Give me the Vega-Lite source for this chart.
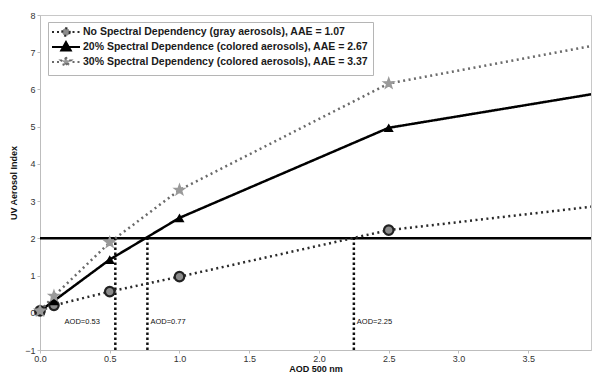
{
  "$schema": "https://vega.github.io/schema/vega-lite/v6.json",
  "autosize": {"type": "none"},
  "padding": {"left": 40, "top": 15, "right": 2, "bottom": 24},
  "width": 551,
  "height": 335,
  "config": {
    "font": "Liberation Sans",
    "view": {"stroke": "#c8c8c8"},
    "axis": {
      "grid": false,
      "domainColor": "#bdbdbd",
      "tickColor": "#bdbdbd",
      "tickSize": 3,
      "labelFont": "Liberation Sans",
      "labelFontSize": 9,
      "labelColor": "#333",
      "labelOverlap": false,
      "titleFont": "Liberation Sans",
      "titleFontSize": 9,
      "titleFontWeight": "bold",
      "titleColor": "#111"
    },
    "axisY": {"labelOverlap": false, "labelFlush": false}
  },
  "datasets": {
    "curves": [
      {"series": "No Spectral Dependency (gray aerosols), AAE = 1.07", "aod": 0, "uvai": 0.05},
      {"series": "No Spectral Dependency (gray aerosols), AAE = 1.07", "aod": 0.1, "uvai": 0.2},
      {"series": "No Spectral Dependency (gray aerosols), AAE = 1.07", "aod": 0.5, "uvai": 0.57},
      {"series": "No Spectral Dependency (gray aerosols), AAE = 1.07", "aod": 1, "uvai": 0.97},
      {"series": "No Spectral Dependency (gray aerosols), AAE = 1.07", "aod": 2.5, "uvai": 2.22},
      {"series": "No Spectral Dependency (gray aerosols), AAE = 1.07", "aod": 4, "uvai": 2.87},
      {"series": "20% Spectral Dependence (colored aerosols), AAE = 2.67", "aod": 0, "uvai": 0.05},
      {"series": "20% Spectral Dependence (colored aerosols), AAE = 2.67", "aod": 0.1, "uvai": 0.32},
      {"series": "20% Spectral Dependence (colored aerosols), AAE = 2.67", "aod": 0.5, "uvai": 1.43},
      {"series": "20% Spectral Dependence (colored aerosols), AAE = 2.67", "aod": 1, "uvai": 2.55},
      {"series": "20% Spectral Dependence (colored aerosols), AAE = 2.67", "aod": 2.5, "uvai": 4.97},
      {"series": "20% Spectral Dependence (colored aerosols), AAE = 2.67", "aod": 4, "uvai": 5.9},
      {"series": "30% Spectral Dependency (colored aerosols), AAE = 3.37", "aod": 0, "uvai": 0.05},
      {"series": "30% Spectral Dependency (colored aerosols), AAE = 3.37", "aod": 0.1, "uvai": 0.45},
      {"series": "30% Spectral Dependency (colored aerosols), AAE = 3.37", "aod": 0.5, "uvai": 1.89},
      {"series": "30% Spectral Dependency (colored aerosols), AAE = 3.37", "aod": 1, "uvai": 3.3},
      {"series": "30% Spectral Dependency (colored aerosols), AAE = 3.37", "aod": 2.5, "uvai": 6.16},
      {"series": "30% Spectral Dependency (colored aerosols), AAE = 3.37", "aod": 4, "uvai": 7.2}
    ],
    "crossings": [
      {"aod": 0.54, "uvai": -1, "high": 2, "label": "AOD=0.53", "labelAt": 0.155},
      {"aod": 0.77, "uvai": -1, "high": 2, "label": "AOD=0.77", "labelAt": 0.77},
      {"aod": 2.25, "uvai": -1, "high": 2, "label": "AOD=2.25", "labelAt": 2.25}
    ],
    "threshold": [
      {"aod": 0, "uvai": 2},
      {"aod": 3.95, "uvai": 2}
    ]
  },
  "encoding": {
    "x": {
      "field": "aod", "type": "quantitative",
      "scale": {"domain": [0, 3.95], "nice": false, "zero": false},
      "axis": {"values": [0, 0.5, 1, 1.5, 2, 2.5, 3, 3.5], "title": "AOD 500 nm", "labelPadding": 1, "titlePadding": 1, "labelFlush": false, "labelOverlap": false}
    },
    "y": {
      "field": "uvai", "type": "quantitative",
      "scale": {"domain": [-1, 8], "nice": false, "zero": false},
      "axis": {"values": [-1, 0, 1, 2, 3, 4, 5, 6, 7, 8], "title": "UV Aerosol Index", "labelPadding": 2, "titlePadding": 6, "labelOverlap": false, "labelFlush": false}
    }
  },
  "layer": [
    {
      "data": {"name": "crossings"},
      "mark": {"type": "rule", "color": "#111", "strokeWidth": 2.5, "strokeDash": [2.5, 2.5]},
      "encoding": {"y2": {"field": "high"}}
    },
    {
      "data": {"name": "crossings"},
      "mark": {"type": "text", "align": "left", "baseline": "middle", "dx": 3, "fontSize": 7.5, "color": "#111"},
      "encoding": {
        "x": {"field": "labelAt", "type": "quantitative"},
        "y": {"datum": -0.24, "type": "quantitative"},
        "text": {"field": "label"}
      }
    },
    {
      "data": {"name": "threshold"},
      "mark": {"type": "line", "color": "#000", "strokeWidth": 2.5}
    },
    {
      "data": {"name": "curves"},
      "mark": {"type": "line", "strokeWidth": 2.5, "clip": true},
      "encoding": {
        "color": {
          "field": "series", "type": "nominal",
          "scale": {
            "domain": ["No Spectral Dependency (gray aerosols), AAE = 1.07", "20% Spectral Dependence (colored aerosols), AAE = 2.67", "30% Spectral Dependency (colored aerosols), AAE = 3.37"],
            "range": ["#2a2a2a", "#000000", "#6a6a6a"]
          },
          "legend": {
            "title": null,
            "orient": "none",
            "legendX": 8,
            "legendY": 7,
            "padding": 4,
            "fillColor": "#ffffff",
            "strokeColor": "#b5b5b5",
            "rowPadding": -2,
            "symbolSize": 100,
            "symbolOffset": 8,
            "labelOffset": 11,
            "labelFont": "Liberation Sans",
            "labelFontSize": 10.5,
            "labelFontWeight": "bold",
            "labelColor": "#1a1a1a",
            "labelLimit": 400,
            "encode": {
              "symbols": {
                "update": {
                  "shape": {"signal": "indexof(datum.value, 'No') === 0 ? 'M-2.8,0L-2.3,0M-1.8,0L-1.3,0M1.3,0L1.8,0M2.3,0L2.8,0M0.75,0A0.75,0.75 0 1,1 -0.75,0A0.75,0.75 0 1,1 0.75,0Z' : (indexof(datum.value, '20%') === 0 ? 'M-2.8,0L2.8,0M0,-1L0.95,0.7L-0.95,0.7Z' : 'M-2.8,0L-2.3,0M-1.8,0L-1.3,0M1.3,0L1.8,0M2.3,0L2.8,0M0,-1L0.24,-0.33L0.95,-0.31L0.38,0.12L0.59,0.81L0,0.4L-0.59,0.81L-0.38,0.12L-0.95,-0.31L-0.24,-0.33Z')"},
                  "size": {"value": 100},
                  "fill": {"signal": "indexof(datum.value, 'No') === 0 ? '#8c8c8c' : (indexof(datum.value, '20%') === 0 ? '#000' : '#999')"},
                  "stroke": {"signal": "indexof(datum.value, 'No') === 0 ? '#222' : (indexof(datum.value, '20%') === 0 ? '#000' : '#999')"},
                  "strokeWidth": {"value": 2},
                  "strokeDash": {"value": []},
                  "opacity": {"value": 1}
                }
              }
            }
          }
        },
        "strokeDash": {
          "field": "series", "type": "nominal",
          "scale": {
            "domain": ["No Spectral Dependency (gray aerosols), AAE = 1.07", "20% Spectral Dependence (colored aerosols), AAE = 2.67", "30% Spectral Dependency (colored aerosols), AAE = 3.37"],
            "range": [[2, 3.5], [1, 0], [2, 3.5]]
          },
          "legend": null
        }
      }
    },
    {
      "data": {"name": "curves"},
      "transform": [{"filter": "datum.aod < 3.9 && indexof(datum.series, 'No') === 0"}],
      "mark": {"type": "point", "shape": "circle", "filled": false, "size": 90, "strokeWidth": 2.2, "fill": "#8c8c8c", "fillOpacity": 1, "stroke": "#222", "opacity": 1}
    },
    {
      "data": {"name": "curves"},
      "transform": [{"filter": "datum.aod < 3.9 && indexof(datum.series, '20%') === 0"}],
      "mark": {"type": "point", "shape": "triangle-up", "filled": true, "size": 100, "color": "#000", "opacity": 1}
    },
    {
      "data": {"name": "curves"},
      "transform": [{"filter": "datum.aod < 3.9 && indexof(datum.series, '30%') === 0"}],
      "mark": {"type": "point", "shape": "M0,-1L0.24,-0.33L0.95,-0.31L0.38,0.12L0.59,0.81L0,0.4L-0.59,0.81L-0.38,0.12L-0.95,-0.31L-0.24,-0.33Z", "filled": true, "size": 110, "color": "#9a9a9a", "strokeWidth": 1.5, "stroke": "#9a9a9a", "opacity": 1}
    }
  ]
}
